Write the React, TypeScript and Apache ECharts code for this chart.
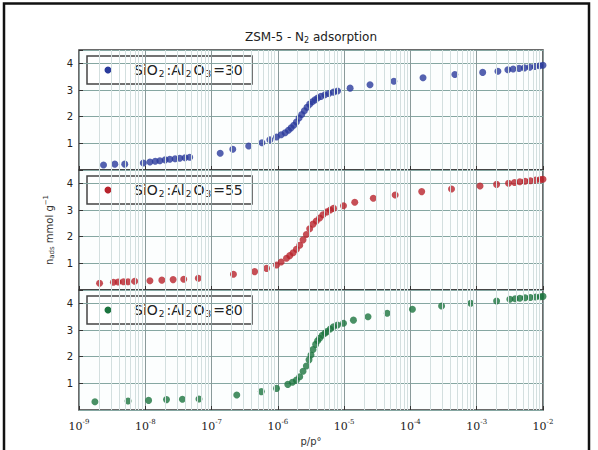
import React, { useEffect, useRef } from 'react';
import * as echarts from 'echarts';

// x values are log10(p/p°) exponents
const xTickExponents = [-9, -8, -7, -6, -5, -4, -3, -2];
const yTickValues = [1, 2, 3, 4];
const ratios = ['30', '55', '80'];
const colors = ['#2b3b9c', '#b8232c', '#1c743f'];

const logP30 = [-8.63, -8.46, -8.31, -8.03, -7.93, -7.85, -7.78, -7.70, -7.63, -7.55, -7.48, -7.40, -7.33,
  -6.87, -6.68, -6.44, -6.24, -6.12, -6.02, -5.95, -5.89, -5.84, -5.80, -5.76, -5.72, -5.68, -5.64, -5.60,
  -5.56, -5.52, -5.48, -5.44, -5.40, -5.35, -5.29, -5.23, -5.16, -5.10, -4.91, -4.61, -4.25, -3.81, -3.33,
  -2.91, -2.68, -2.53, -2.45, -2.36, -2.28, -2.20, -2.12, -2.05, -2.00];
const n30 = [0.19, 0.22, 0.22, 0.26, 0.30, 0.33, 0.35, 0.38, 0.40, 0.42, 0.44, 0.46, 0.48,
  0.63, 0.78, 0.90, 1.02, 1.13, 1.24, 1.32, 1.40, 1.49, 1.58, 1.68, 1.80, 1.95, 2.08, 2.22,
  2.35, 2.47, 2.56, 2.63, 2.70, 2.76, 2.82, 2.87, 2.92, 2.96, 3.07, 3.20, 3.33, 3.46, 3.58,
  3.66, 3.70, 3.76, 3.79, 3.81, 3.83, 3.85, 3.88, 3.91, 3.93];

const logP55 = [-8.69, -8.48, -8.41, -8.33, -8.26, -8.16, -7.93, -7.75, -7.58, -7.42, -7.20,
  -6.67, -6.35, -6.17, -6.02, -5.95, -5.87, -5.82, -5.77, -5.72, -5.67, -5.62, -5.57, -5.52, -5.47,
  -5.42, -5.37, -5.32, -5.26, -5.21, -5.16, -5.01, -4.84, -4.56, -4.23, -3.83, -3.38, -2.95, -2.70,
  -2.52, -2.43, -2.35, -2.27, -2.19, -2.11, -2.04, -2.00];
const n55 = [0.25, 0.29, 0.30, 0.31, 0.31, 0.33, 0.35, 0.37, 0.39, 0.40, 0.44,
  0.59, 0.69, 0.81, 0.94, 1.05, 1.19, 1.29, 1.40, 1.53, 1.68, 1.88, 2.08, 2.30, 2.47,
  2.59, 2.70, 2.82, 2.93, 3.00, 3.06, 3.16, 3.29, 3.44, 3.56, 3.69, 3.79, 3.90, 3.96,
  4.00, 4.03, 4.06, 4.08, 4.10, 4.12, 4.14, 4.15];

const logP80 = [-8.76, -8.26, -7.95, -7.68, -7.44, -7.19, -6.62, -6.25, -6.02, -5.85, -5.78, -5.72,
  -5.67, -5.62, -5.57, -5.53, -5.50, -5.47, -5.43, -5.40, -5.37, -5.33, -5.29, -5.26, -5.21, -5.16,
  -5.10, -5.01, -4.86, -4.64, -4.35, -3.97, -3.53, -3.09, -2.70, -2.50, -2.42, -2.35, -2.27, -2.19,
  -2.11, -2.04, -2.00];
const n80 = [0.31, 0.34, 0.36, 0.39, 0.40, 0.41, 0.56, 0.69, 0.81, 0.96, 1.04, 1.12,
  1.25, 1.45, 1.65, 1.88, 2.06, 2.27, 2.46, 2.60, 2.69, 2.80, 2.88, 2.94, 3.04, 3.12,
  3.19, 3.25, 3.37, 3.50, 3.63, 3.78, 3.90, 4.00, 4.09, 4.15, 4.17, 4.19, 4.21, 4.22,
  4.24, 4.25, 4.26];

const seriesX = [logP30, logP55, logP80];
const seriesY = [n30, n55, n80];

const PLOT_LEFT = 79;
const PLOT_RIGHT = 543;
const PANEL_TOPS = [50, 170, 290];
const PANEL_H = 120;
const FONT = 'DejaVu Sans';

export default function App() {
  const ref = useRef<HTMLDivElement>(null);
  useEffect(() => {
    if (!ref.current) return;
    const chart = echarts.init(ref.current, null, { renderer: 'svg' });

    const minorLines: { xAxis: number }[] = [];
    for (let e = xTickExponents[0]; e < xTickExponents[xTickExponents.length - 1]; e++) {
      for (let k = 2; k <= 9; k++) minorLines.push({ xAxis: e + Math.log10(k) });
    }

    const grids = PANEL_TOPS.map((top) => ({
      left: PLOT_LEFT,
      width: PLOT_RIGHT - PLOT_LEFT,
      top,
      height: PANEL_H,
      show: true,
      backgroundColor: '#fcfefe',
      borderColor: '#3a3a3a',
      borderWidth: 1.5,
    }));

    const xAxes = PANEL_TOPS.map((_, i) => ({
      type: 'value',
      gridIndex: i,
      min: xTickExponents[0],
      max: xTickExponents[xTickExponents.length - 1],
      interval: 1,
      axisLine: { show: false },
      axisTick: { show: true, inside: true, length: 4, lineStyle: { color: '#333' } },
      splitLine: { show: true, lineStyle: { color: '#8a9a9a', width: 1 } },
      axisLabel: {
        show: i === 2,
        margin: 8,
        formatter: (v: number) => `{b|10}{s|${v}}`,
        rich: {
          b: { fontFamily: 'DejaVu Serif', fontSize: 11, color: '#222' },
          s: { fontFamily: 'DejaVu Serif', fontSize: 7, color: '#222', padding: [0, 0, 9, 0] },
        },
      },
      name: i === 2 ? '{p|p/p°}' : '',
      nameLocation: 'middle',
      nameGap: 26,
      nameTextStyle: { rich: { p: { fontFamily: FONT, fontSize: 10, color: '#333' } } },
    }));

    const yAxes = PANEL_TOPS.map((_, i) => ({
      type: 'value',
      gridIndex: i,
      min: 0,
      max: 4.5,
      interval: 1,
      axisLine: { show: false },
      axisTick: { show: true, inside: true, length: 4, lineStyle: { color: '#333' } },
      splitLine: { show: true, lineStyle: { color: '#86a7a2', width: 1 } },
      axisLabel: {
        showMinLabel: false,
        margin: 6,
        fontFamily: FONT,
        fontSize: 10,
        color: '#222',
        formatter: (v: number) => (yTickValues.includes(v) ? String(v) : ''),
      },
      name: i === 1 ? '{n|n}{sub|ads}{n| mmol g}{sup|−1}' : '',
      nameLocation: 'middle',
      nameGap: 23,
      nameRotate: 90,
      nameTextStyle: {
        rich: {
          n: { fontFamily: FONT, fontSize: 10, color: '#333' },
          sub: { fontFamily: FONT, fontSize: 7, color: '#333', padding: [6, 0, 0, 0] },
          sup: { fontFamily: FONT, fontSize: 7, color: '#333', padding: [0, 0, 7, 0] },
        },
      },
    }));

    const series: any[] = [];
    PANEL_TOPS.forEach((_, i) => {
      series.push({
        type: 'line',
        xAxisIndex: i,
        yAxisIndex: i,
        data: [],
        silent: true,
        markLine: {
          silent: true,
          symbol: 'none',
          label: { show: false },
          lineStyle: { color: '#d3dfdf', width: 1, type: 'solid' },
          data: minorLines,
        },
        z: 1,
      });
      series.push({
        type: 'scatter',
        name: `SiO2:Al2O3=${ratios[i]}`,
        xAxisIndex: i,
        yAxisIndex: i,
        symbol: 'circle',
        symbolSize: 7,
        itemStyle: { color: colors[i] },
        data: seriesX[i].map((x, j) => [x, seriesY[i][j]]),
        z: 3,
      });
    });

    const legendGraphics = PANEL_TOPS.map((top, i) => ({
      type: 'group',
      z: 100,
      children: [
        {
          type: 'rect',
          shape: { x: 87, y: top + 6, width: 165, height: 28 },
          style: { fill: '#ffffff', stroke: '#444', lineWidth: 1.5 },
        },
        {
          type: 'circle',
          shape: { cx: 108, cy: top + 20, r: 3.5 },
          style: { fill: colors[i] },
        },
        {
          type: 'text',
          x: 134,
          y: top + 20,
          style: {
            text: `{m|SiO}{s|2}{m|:Al}{s|2}{m|O}{s|3}{m|=${ratios[i]}}`,
            verticalAlign: 'middle',
            rich: {
              m: { fontFamily: FONT, fontSize: 14, fill: '#222' },
              s: { fontFamily: FONT, fontSize: 9, fill: '#222', padding: [8, 2, 0, 1] },
            },
          },
        },
      ],
    }));

    chart.setOption({
      animation: false,
      backgroundColor: '#ffffff',
      grid: grids,
      xAxis: xAxes,
      yAxis: yAxes,
      series,
      graphic: [
        {
          type: 'polyline',
          shape: { points: [[4, 452], [4, 3.5], [589, 3.5], [589, 452]] },
          style: { stroke: '#111', lineWidth: 2.5, fill: 'none' },
        },
        {
          type: 'text',
          x: 311,
          y: 37,
          style: {
            text: '{a|ZSM-5 - N}{s|2}{a| adsorption}',
            align: 'center',
            verticalAlign: 'middle',
            rich: {
              a: { fontFamily: FONT, fontSize: 12, fill: '#222' },
              s: { fontFamily: FONT, fontSize: 8, fill: '#222', padding: [6, 0, 0, 0] },
            },
          },
        },
        ...legendGraphics,
      ],
    });
    return () => chart.dispose();
  }, []);

  return (
    <div
      ref={ref}
      style={{ position: 'absolute', left: 0, top: 0, width: 598, height: 450, background: '#fff' }}
    />
  );
}
